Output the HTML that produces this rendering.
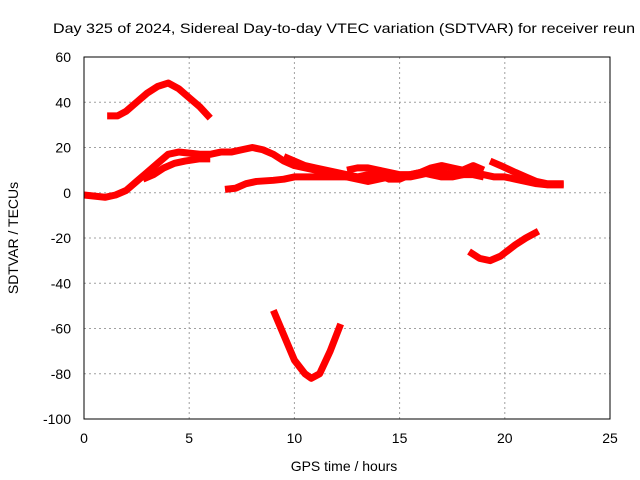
<!DOCTYPE html>
<html><head><meta charset="utf-8"><style>
body{margin:0;background:#fff;}
svg{display:block;font-family:"Liberation Sans",sans-serif;}
</style></head><body>
<svg id="chart" width="640" height="480">
<text x="53" y="33" font-size="14" textLength="582" lengthAdjust="spacingAndGlyphs" fill="#000">Day 325 of 2024, Sidereal Day-to-day VTEC variation (SDTVAR) for receiver reun</text>
<g id="grid"></g>
<g id="series"></g>
<rect x="84" y="57" width="526" height="362" fill="none" stroke="#000" stroke-width="1"/>
<g id="axes"></g>
<text x="344" y="471" font-size="14" text-anchor="middle">GPS time / hours</text>
<text transform="translate(18,238) rotate(-90)" font-size="14" text-anchor="middle">SDTVAR / TECUs</text>
</svg>
<script>
const xTicks=[0,5,10,15,20,25];
const yTicks=[60,40,20,0,-20,-40,-60,-80,-100];
const arcA_t=[1.1,1.6,2,2.5,3,3.5,4,4.5,5,5.5,6];
const arcA_v=[34,34,36,40,44,47,48.5,46,42,38,33];
const arcB_t=[0,0.5,1,1.5,2,2.5,3,3.5,4,4.5,5,5.5,6,6.5,7,7.5,8,8.5,9,9.5,10,10.5,11,11.5,12,12.5,13,13.5,14,14.5,15,15.5,16,16.5,17,17.5,18,18.5,19,19.5,20,20.5,21,21.5,22,22.8];
const arcB_v=[-1,-1.5,-2,-1,1,5,9,13,17,18,17.5,17,17,18,18,19,20,19,17,14,12,11,10,9,8,7,6,5,6,7,7,7,8,9,9,8,8,9,8,7,7,6,5,4,3.5,3.5];
const arcB2_t=[9.5,10,10.5,11,11.5,12,12.5,13,13.5,14,14.5,15,15.5,16,16.5,17,17.5,18,18.5,19];
const arcB2_v=[16,14,12,11,10,9,8,7,8,8,6,6,8,9,8,7,7,8,8,7];
const arcC_t=[2.8,3.3,3.8,4.3,4.8,5.5,6];
const arcC_v=[6,8,11,13,14,15,15];
const arcD_t=[6.7,7.2,7.7,8.2,9,9.5,10,11,12,13];
const arcD_v=[1.5,2,4,5,5.5,6,7,7,7,7];
const arcE_t=[12.5,13,13.5,14,14.5,15,15.5,16,16.5,17,17.5,18,18.5,19];
const arcE_v=[10,11,11,10,9,8,8,9,11,12,11,10,12,10];
const arcF_t=[19.3,19.8,20.5,21,21.5,22,22.8];
const arcF_v=[14,12,9,7,5,4,4];
const arcV_t=[9.0,9.5,10,10.5,10.8,11.2,11.7,12.2];
const arcV_v=[-52,-63,-74,-80,-82,-80,-70,-58];
const arcW_t=[18.3,18.8,19.3,19.8,20.5,21,21.6];
const arcW_v=[-26,-29,-30,-28,-23,-20,-17];
const NS="http://www.w3.org/2000/svg";
const X=t=>84+t*(526/25);
const Y=v=>57+(60-v)*(362/160);
function mk(tag,attrs,parent){const e=document.createElementNS(NS,tag);for(const k in attrs)e.setAttribute(k,attrs[k]);parent.appendChild(e);return e;}
const grid=document.getElementById('grid'),axes=document.getElementById('axes'),ser=document.getElementById('series');
xTicks.forEach(t=>{
 if(t>0&&t<25){const l=mk('line',{x1:X(t),x2:X(t),y1:57,y2:419,stroke:'#a0a0a0','stroke-dasharray':'2,3'},grid);
 
 }
 const tx=mk('text',{x:X(t),y:443,'font-size':14,'text-anchor':'middle'},axes);tx.textContent=t;
 
 
});
yTicks.forEach(v=>{
 if(v<60&&v>-100){const l=mk('line',{x1:84,x2:610,y1:Y(v),y2:Y(v),stroke:'#a0a0a0','stroke-dasharray':'2,3'},grid);
 
 }
 const tx=mk('text',{x:71,y:Y(v)+5,'font-size':14,'text-anchor':'end'},axes);tx.textContent=v;
 
 
});
const arcs=[[arcA_t,arcA_v],[arcB_t,arcB_v],[arcB2_t,arcB2_v],[arcC_t,arcC_v],[arcD_t,arcD_v],[arcE_t,arcE_v],[arcF_t,arcF_v],[arcV_t,arcV_v],[arcW_t,arcW_v]];
arcs.forEach((a,i)=>{
 const pts=a[0].map((t,j)=>X(t)+','+Y(a[1][j])).join(' ');
 const p=mk('polyline',{points:pts,fill:'none',stroke:'#ff0000','stroke-width':7,'stroke-linejoin':'round'},ser);
 
 
});
</script>
</body></html>
